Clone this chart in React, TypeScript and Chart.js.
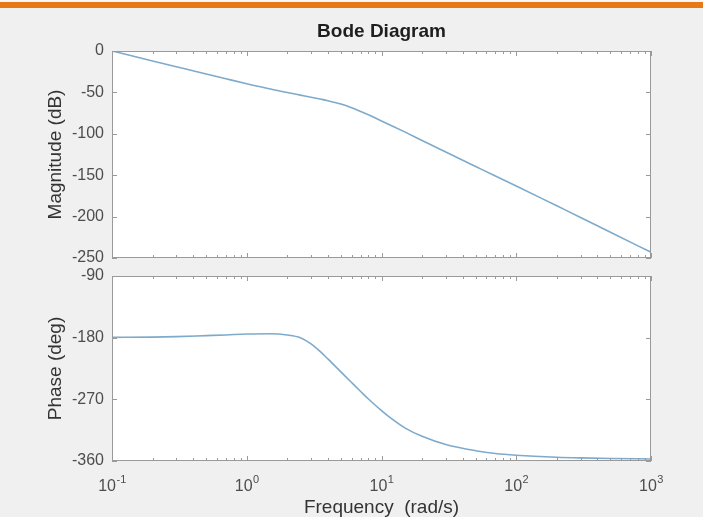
import React, { useEffect, useRef } from "react";
import { Chart, registerables } from "chart.js";

Chart.register(...registerables);

// ---- data ----
const frequencies = [0.1, 0.2, 0.3, 0.5, 0.7, 1, 1.5, 2, 2.5, 3, 3.5, 4, 5, 6, 7, 8, 10, 12, 15, 20, 30, 50, 70, 100, 200, 300, 500, 1000];
const magnitudeDb = [0, -12, -19, -27.8, -33.5, -39.5, -46, -50.2, -53.3, -55.8, -58, -60, -64, -68.5, -73, -77, -84.5, -90.5, -98, -108, -122, -139.5, -151, -163, -187, -201, -219, -243];
const phaseDeg = [-179.6, -179.2, -178.5, -177, -176, -174.6, -174.2, -176, -180, -189, -200, -211, -230, -245.5, -258.5, -269.5, -286.5, -299, -312, -324, -336, -345, -349, -351.5, -354.5, -355.5, -356.3, -357];

const decadeTicks = [0.1, 1, 10, 100, 1000];
const decadeExponents = ["-1", "0", "1", "2", "3"];
const magnitudeTicks = [0, -50, -100, -150, -200, -250];
const phaseTicks = [-90, -180, -270, -360];

const titleText = "Bode Diagram";
const magnitudeLabel = "Magnitude (dB)";
const phaseLabel = "Phase (deg)";
const frequencyLabel = "Frequency  (rad/s)";

const W = 703;
const H = 517;
const FONT = '"Liberation Sans", Arial, Helvetica, sans-serif';
const LINE_COLOR = "#7eaacb";
const AXIS_COLOR = "#9a9a9a";

type PanelCfg = {
  values: number[];
  yMin: number;
  yMax: number;
  yTicks: number[];
  padTop: number;
  padBottom: number;
  yLabel: string;
  showTitle: boolean;
  showXLabels: boolean;
};

function makePlugin(cfg: PanelCfg) {
  return {
    id: "bodePanel",
    beforeDraw(chart: any) {
      const { ctx, chartArea: a } = chart;
      ctx.save();
      ctx.fillStyle = "#ffffff";
      ctx.fillRect(a.left, a.top, a.right - a.left, a.bottom - a.top);
      ctx.restore();
    },
    afterDraw(chart: any) {
      const { ctx, chartArea: a } = chart;
      const xs = chart.scales.x;
      const ys = chart.scales.y;
      ctx.save();
      // box
      ctx.strokeStyle = AXIS_COLOR;
      ctx.lineWidth = 1;
      ctx.strokeRect(a.left + 0.5, a.top + 0.5, a.right - a.left - 1, a.bottom - a.top - 1);
      // y ticks (inward, left and right)
      ctx.beginPath();
      for (const v of cfg.yTicks) {
        const y = Math.round(ys.getPixelForValue(v)) + 0.5;
        ctx.moveTo(a.left, y);
        ctx.lineTo(a.left + 5, y);
        ctx.moveTo(a.right, y);
        ctx.lineTo(a.right - 5, y);
      }
      // x ticks (major + minor, top and bottom)
      for (let d = 0; d < decadeTicks.length; d++) {
        const base = decadeTicks[d];
        for (let m = 1; m <= 9; m++) {
          const v = base * m;
          if (v > decadeTicks[decadeTicks.length - 1] + 1e-9) break;
          const len = m === 1 ? 5 : 3;
          const x = Math.round(xs.getPixelForValue(v)) + 0.5;
          ctx.moveTo(x, a.top);
          ctx.lineTo(x, a.top + len);
          ctx.moveTo(x, a.bottom);
          ctx.lineTo(x, a.bottom - len);
        }
      }
      ctx.stroke();

      // y axis title
      ctx.fillStyle = "#333333";
      ctx.font = `19px ${FONT}`;
      ctx.textAlign = "center";
      ctx.textBaseline = "middle";
      ctx.save();
      ctx.translate(55.5, (a.top + a.bottom) / 2);
      ctx.rotate(-Math.PI / 2);
      ctx.fillText(cfg.yLabel, 0, 0);
      ctx.restore();

      if (cfg.showTitle) {
        ctx.fillStyle = "#1e1e1e";
        ctx.font = `bold 19px ${FONT}`;
        ctx.textAlign = "center";
        ctx.textBaseline = "alphabetic";
        ctx.fillText(titleText, (a.left + a.right) / 2, 37);
      }

      if (cfg.showXLabels) {
        ctx.fillStyle = "#4d4d4d";
        ctx.textBaseline = "alphabetic";
        ctx.textAlign = "left";
        for (let i = 0; i < decadeTicks.length; i++) {
          const x = xs.getPixelForValue(decadeTicks[i]);
          ctx.font = `16px ${FONT}`;
          const w1 = ctx.measureText("10").width;
          ctx.font = `11px ${FONT}`;
          const w2 = ctx.measureText(decadeExponents[i]).width;
          const start = x - (w1 + w2) / 2;
          ctx.font = `16px ${FONT}`;
          ctx.fillText("10", start, 491);
          ctx.font = `11px ${FONT}`;
          ctx.fillText(decadeExponents[i], start + w1 + 0.5, 483);
        }
        ctx.fillStyle = "#333333";
        ctx.font = `19px ${FONT}`;
        ctx.textAlign = "center";
        ctx.fillText(frequencyLabel, (a.left + a.right) / 2, 513);
      }
      ctx.restore();
    },
  };
}

function buildChart(canvas: HTMLCanvasElement, cfg: PanelCfg) {
  const points = frequencies.map((f, i) => ({ x: f, y: cfg.values[i] }));
  return new Chart(canvas, {
    type: "line",
    data: {
      datasets: [
        {
          data: points,
          borderColor: LINE_COLOR,
          borderWidth: 1.6,
          pointRadius: 0,
          fill: false,
          cubicInterpolationMode: "monotone",
        },
      ],
    },
    options: {
      animation: false,
      responsive: false,
      maintainAspectRatio: false,
      devicePixelRatio: 1,
      layout: { padding: { top: cfg.padTop, bottom: cfg.padBottom, left: 0, right: 52 } },
      plugins: { legend: { display: false }, tooltip: { enabled: false }, title: { display: false } },
      events: [],
      scales: {
        x: {
          type: "logarithmic",
          min: decadeTicks[0],
          max: decadeTicks[decadeTicks.length - 1],
          ticks: { display: false },
          grid: { display: false, drawTicks: false },
          border: { display: false },
          afterFit: (s: any) => {
            s.height = 0;
          },
        },
        y: {
          type: "linear",
          min: cfg.yMin,
          max: cfg.yMax,
          afterBuildTicks: (s: any) => {
            s.ticks = cfg.yTicks.map((v) => ({ value: v }));
          },
          ticks: { color: "#4d4d4d", font: { size: 16, family: FONT }, padding: 8 },
          grid: { display: false, drawTicks: false },
          border: { display: false },
          afterFit: (s: any) => {
            s.width = 112;
          },
        },
      },
    },
    plugins: [makePlugin(cfg)],
  } as any);
}

export default function App() {
  const magRef = useRef<HTMLCanvasElement>(null);
  const phaseRef = useRef<HTMLCanvasElement>(null);

  useEffect(() => {
    const c1 = buildChart(magRef.current!, {
      values: magnitudeDb,
      yMin: -250,
      yMax: 0,
      yTicks: magnitudeTicks,
      padTop: 51,
      padBottom: H - 258,
      yLabel: magnitudeLabel,
      showTitle: true,
      showXLabels: false,
    });
    const c2 = buildChart(phaseRef.current!, {
      values: phaseDeg,
      yMin: -360,
      yMax: -90,
      yTicks: phaseTicks,
      padTop: 276,
      padBottom: H - 461,
      yLabel: phaseLabel,
      showTitle: false,
      showXLabels: true,
    });
    return () => {
      c1.destroy();
      c2.destroy();
    };
  }, []);

  return (
    <div style={{ position: "fixed", left: 0, top: 0, width: W, height: H, background: "#f0f0f0", overflow: "hidden" }}>
      <div style={{ position: "absolute", left: 0, top: 0, width: W, height: 2, background: "#f7f7f7" }} />
      <div style={{ position: "absolute", left: 0, top: 2, width: W, height: 6, background: "#e87716" }} />
      <canvas ref={magRef} width={W} height={H} style={{ position: "absolute", left: 0, top: 0, width: W, height: H }} />
      <canvas ref={phaseRef} width={W} height={H} style={{ position: "absolute", left: 0, top: 0, width: W, height: H }} />
    </div>
  );
}
